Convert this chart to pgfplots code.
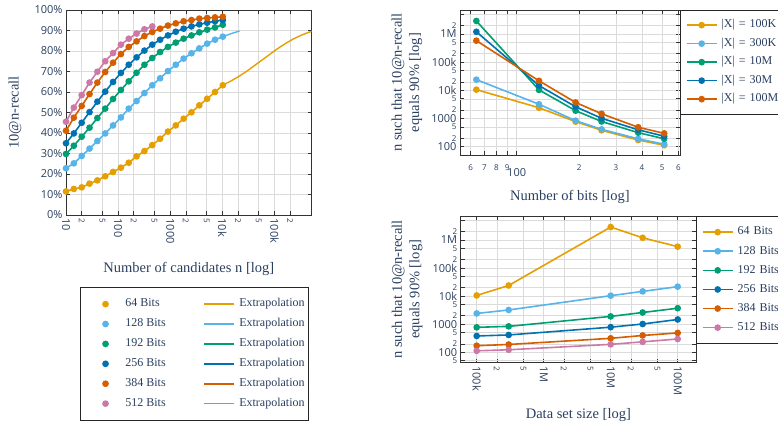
\documentclass[border=0pt]{standalone}
\usepackage{fontspec}
\setmainfont{Liberation Serif}
\newfontfamily\tickfont{Open Sans}
\usepackage{pgfplots}
\pgfplotsset{compat=1.18}
\usepackage{pgfplotstable}

\definecolor{txt}{HTML}{2A3F5F}
\definecolor{cA}{HTML}{E69F00}
\definecolor{cB}{HTML}{56B4E9}
\definecolor{cC}{HTML}{009E73}
\definecolor{cD}{HTML}{0072B2}
\definecolor{cE}{HTML}{D55E00}
\definecolor{cF}{HTML}{CC79A7}

% recall curves, n = 10*sqrt(2)^k
\pgfplotstableread{
n b64 b128 b192 b256 b384 b512
10 11.5 22.8 29.8 35.0 41.1 45.5
14.142 12.7 25.2 33.8 39.8 47.5 52.4
20 13.5 28.8 38.2 45.0 53.2 58.5
28.284 15.3 32.4 42.6 50.2 59.0 64.6
40 16.9 36.1 47.3 55.3 64.6 69.9
56.569 18.9 39.8 51.9 60.2 69.8 75.0
80 21.0 43.7 56.6 64.9 74.3 79.0
113.14 23.1 47.6 61.0 69.3 78.5 83.1
160 25.5 51.9 65.2 73.3 82.0 86.0
226.27 28.6 55.6 69.4 76.9 84.7 88.5
320 31.2 59.5 73.3 80.2 87.3 90.6
452.55 34.1 63.3 76.6 83.1 89.3 92.0
640 37.2 66.7 79.5 85.5 90.9 nan
905.10 40.7 70.2 82.0 87.6 92.4 nan
1280 43.7 73.3 84.1 89.4 93.5 nan
1810.2 47.0 76.3 86.0 90.9 94.5 nan
2560 50.1 78.9 87.6 92.0 95.1 nan
3620.4 53.5 81.3 89.1 93.0 95.8 nan
5120 56.7 83.6 90.4 93.8 96.1 nan
7240.8 60.0 85.5 91.5 94.5 96.4 nan
10240 63.3 87.0 92.8 95.1 96.7 nan
}\recall

\pgfplotstableread{
n r
10240 63.3
14482 65.3
20480 67.5
28963 70.0
40960 72.8
57926 75.6
81920 78.4
115850 81.2
163840 83.7
231700 85.9
327680 87.7
463410 89.2
520000 89.6
}\extA

\pgfplotstableread{
n r
10240 87.0
14482 88.4
20480 89.6
21500 89.8
}\extB

\pgfplotstableread{
bits x100k x300k x10m x30m x100m
64 10600 24000 2900000 1200000 580000
128 2420 3220 10400 14800 21800
192 775 840 1900 2620 3720
256 382 415 785 1020 1475
384 172 190 315 398 490
512 113 123 192 236 298
}\bybits

\pgfplotstableread{
size b64 b128 b192 b256 b384 b512
100000 10600 2420 775 382 172 113
300000 24000 3220 840 415 190 123
10000000 2900000 10400 1900 785 315 192
30000000 1200000 14800 2620 1020 398 236
100000000 580000 21800 3720 1475 490 298
}\bysize

\pgfplotsset{
  myax/.style={
    scale only axis, grid=major,
    major grid style={black!14, line width=0.6pt},
    axis line style={black!80, line width=0.8pt},
    tick style={black!80, line width=0.7pt},
    tick align=inside, major tick length=4pt,
    xminorticks=false, yminorticks=false,
    tick label style={font=\tickfont\fontsize{11}{13}\selectfont, text=txt},
    label style={font=\fontsize{14.5}{17.5}\selectfont, text=txt},
    every axis plot/.append style={line width=1.6pt, mark size=2.5pt, mark options={solid}},
    legend image code/.code={
      \path (0pt,0pt) (39pt,0pt);
      \draw[mark repeat=2,mark phase=2,##1] plot coordinates {(5pt,0pt) (20pt,0pt) (35pt,0pt)};},
    legend style={draw=black!85, line width=0.8pt, fill=white, column sep=0pt,
      font=\fontsize{12}{14}\selectfont, text=txt,
      nodes={inner xsep=0pt, inner ysep=0pt, text height=8.5pt, text depth=3pt}},
    legend cell align=left,
  },
  dotleg/.style={legend image code/.code={
      \path (0pt,0pt) (39pt,0pt);
      \draw[##1] plot coordinates {(20pt,0pt)};}},
  minorlab/.style={tick label style={font=\tickfont\fontsize{8}{9}\selectfont}},
}

\begin{document}
\begin{tikzpicture}
\useasboundingbox (0pt,0pt) rectangle (778pt,-424pt);

% ---- left: recall vs number of candidates
\begin{axis}[myax,
  at={(66pt,-215pt)}, anchor=south west, width=245.7pt, height=205pt,
  xmode=log, xmin=10, xmax=520000, ymin=0, ymax=100,
  xtick={10,100,1000,10000,100000}, xticklabels={10,100,1000,10k,100k},
  extra x ticks={20,50,200,500,2000,5000,20000,50000,200000},
  extra x tick labels={2,5,2,5,2,5,2,5,2},
  extra x tick style={grid=major, minorlab},
  xticklabel style={rotate=-90, anchor=west},
  ytick={0,10,...,100},
  yticklabels={0\%,10\%,20\%,30\%,40\%,50\%,60\%,70\%,80\%,90\%,100\%},
  xlabel={Number of candidates n [log]},
  xlabel style={at={(axis description cs:0.5,-0.2815)}, anchor=base},
  ylabel={10@n-recall},
  ylabel style={at={(axis description cs:-0.193,0.5)}, anchor=base},
  legend columns=2,
  legend style={at={(axis description cs:0.989,-0.351)}, anchor=north east,
    inner xsep=4pt, inner ysep=11pt, row sep=8.4pt,
    /tikz/every even column/.append style={column sep=33pt}},
]
\addplot[cA, line width=1.4pt, forget plot] table[x=n, y=r] {\extA};
\addplot[cB, line width=1.4pt, forget plot] table[x=n, y=r] {\extB};
\addplot[cA, mark=*, forget plot] table[x=n, y=b64] {\recall};
\addplot[cB, mark=*, forget plot] table[x=n, y=b128] {\recall};
\addplot[cC, mark=*, forget plot] table[x=n, y=b192] {\recall};
\addplot[cD, mark=*, forget plot] table[x=n, y=b256] {\recall};
\addplot[cE, mark=*, forget plot] table[x=n, y=b384] {\recall};
\addplot[cF, mark=*, forget plot] table[x=n, y=b512] {\recall};
\addlegendimage{cA, mark=*, mark size=2.5pt, dotleg}\addlegendentry{64 Bits}
\addlegendimage{cA, line width=1.6pt}\addlegendentry{Extrapolation}
\addlegendimage{cB, mark=*, mark size=2.5pt, dotleg}\addlegendentry{128 Bits}
\addlegendimage{cB, line width=1.6pt}\addlegendentry{Extrapolation}
\addlegendimage{cC, mark=*, mark size=2.5pt, dotleg}\addlegendentry{192 Bits}
\addlegendimage{cC, line width=1.6pt}\addlegendentry{Extrapolation}
\addlegendimage{cD, mark=*, mark size=2.5pt, dotleg}\addlegendentry{256 Bits}
\addlegendimage{cD, line width=1.6pt}\addlegendentry{Extrapolation}
\addlegendimage{cE, mark=*, mark size=2.5pt, dotleg}\addlegendentry{384 Bits}
\addlegendimage{cE, line width=1.6pt}\addlegendentry{Extrapolation}
\addlegendimage{cF, mark=*, mark size=2.5pt, dotleg}\addlegendentry{512 Bits}
\addlegendimage{cF, line width=1.6pt}\addlegendentry{Extrapolation}
\end{axis}

% ---- top right: n at 90% vs number of bits
\begin{axis}[myax,
  at={(460pt,-155pt)}, anchor=south west, width=220pt, height=145pt,
  xmode=log, ymode=log, xmin=53.4, xmax=610, ymin=50.8, ymax=7.1e6,
  xtick={100}, xticklabels={100},
  xticklabel style={yshift=-10pt},
  extra x ticks={60,70,80,90,200,300,400,500,600},
  extra x tick labels={6,7,8,9,2,3,4,5,6},
  extra x tick style={grid=major, minorlab, xticklabel style={yshift=4pt}},
  ytick={100,1000,10000,100000,1000000},
  yticklabels={100,1000,10k,100k,1M},
  extra y ticks={50,200,500,2000,5000,20000,50000,200000,500000,2000000,5000000},
  extra y tick labels={5,2,5,2,5,2,5,2,5,2,{}},
  extra y tick style={grid=major, minorlab},
  xlabel={Number of bits [log]},
  xlabel style={at={(axis description cs:0.5,-0.317)}, anchor=base},
  ylabel={n such that 10@n-recall\\equals 90\% [log]},
  ylabel style={at={(axis description cs:-0.241,0.5)}, anchor=center, align=center},
  legend style={at={(1,1)}, anchor=north west, inner xsep=0.5pt, inner ysep=9pt, row sep=7pt,
    nodes={text width=62pt}},
]
\addplot[cA, mark=*] table[x=bits, y=x100k] {\bybits};
\addlegendentry{|X| = 100K}
\addplot[cB, mark=*] table[x=bits, y=x300k] {\bybits};
\addlegendentry{|X| = 300K}
\addplot[cC, mark=*] table[x=bits, y=x10m] {\bybits};
\addlegendentry{|X| = 10M}
\addplot[cD, mark=*] table[x=bits, y=x30m] {\bybits};
\addlegendentry{|X| = 30M}
\addplot[cE, mark=*] table[x=bits, y=x100m] {\bybits};
\addlegendentry{|X| = 100M}
\end{axis}

% ---- bottom right: n at 90% vs data set size
\begin{axis}[myax,
  at={(460.7pt,-362.7pt)}, anchor=south west, width=235.3pt, height=146.7pt,
  xmode=log, ymode=log, xmin=57700, xmax=1.876e8, ymin=42.6, ymax=7.16e6,
  xtick={100000,1000000,10000000,100000000}, xticklabels={100k,1M,10M,100M},
  extra x ticks={200000,500000,2000000,5000000,20000000,50000000},
  extra x tick labels={2,5,2,5,2,5},
  extra x tick style={grid=major, minorlab},
  xticklabel style={rotate=-90, anchor=west},
  ytick={100,1000,10000,100000,1000000},
  yticklabels={100,1000,10k,100k,1M},
  extra y ticks={50,200,500,2000,5000,20000,50000,200000,500000,2000000,5000000},
  extra y tick labels={5,2,5,2,5,2,5,2,5,2,{}},
  extra y tick style={grid=major, minorlab},
  xlabel={Data set size [log]},
  xlabel style={at={(axis description cs:0.5,-0.380)}, anchor=base},
  ylabel={n such that 10@n-recall\\equals 90\% [log]},
  ylabel style={at={(axis description cs:-0.228,0.5)}, anchor=center, align=center},
  legend style={at={(1,1)}, anchor=north west, inner xsep=0.5pt, inner ysep=10pt, row sep=7.6pt,
    nodes={text width=50pt}},
]
\addplot[cA, mark=*] table[x=size, y=b64] {\bysize};
\addlegendentry{64 Bits}
\addplot[cB, mark=*] table[x=size, y=b128] {\bysize};
\addlegendentry{128 Bits}
\addplot[cC, mark=*] table[x=size, y=b192] {\bysize};
\addlegendentry{192 Bits}
\addplot[cD, mark=*] table[x=size, y=b256] {\bysize};
\addlegendentry{256 Bits}
\addplot[cE, mark=*] table[x=size, y=b384] {\bysize};
\addlegendentry{384 Bits}
\addplot[cF, mark=*] table[x=size, y=b512] {\bysize};
\addlegendentry{512 Bits}
\end{axis}
\end{tikzpicture}
\end{document}
